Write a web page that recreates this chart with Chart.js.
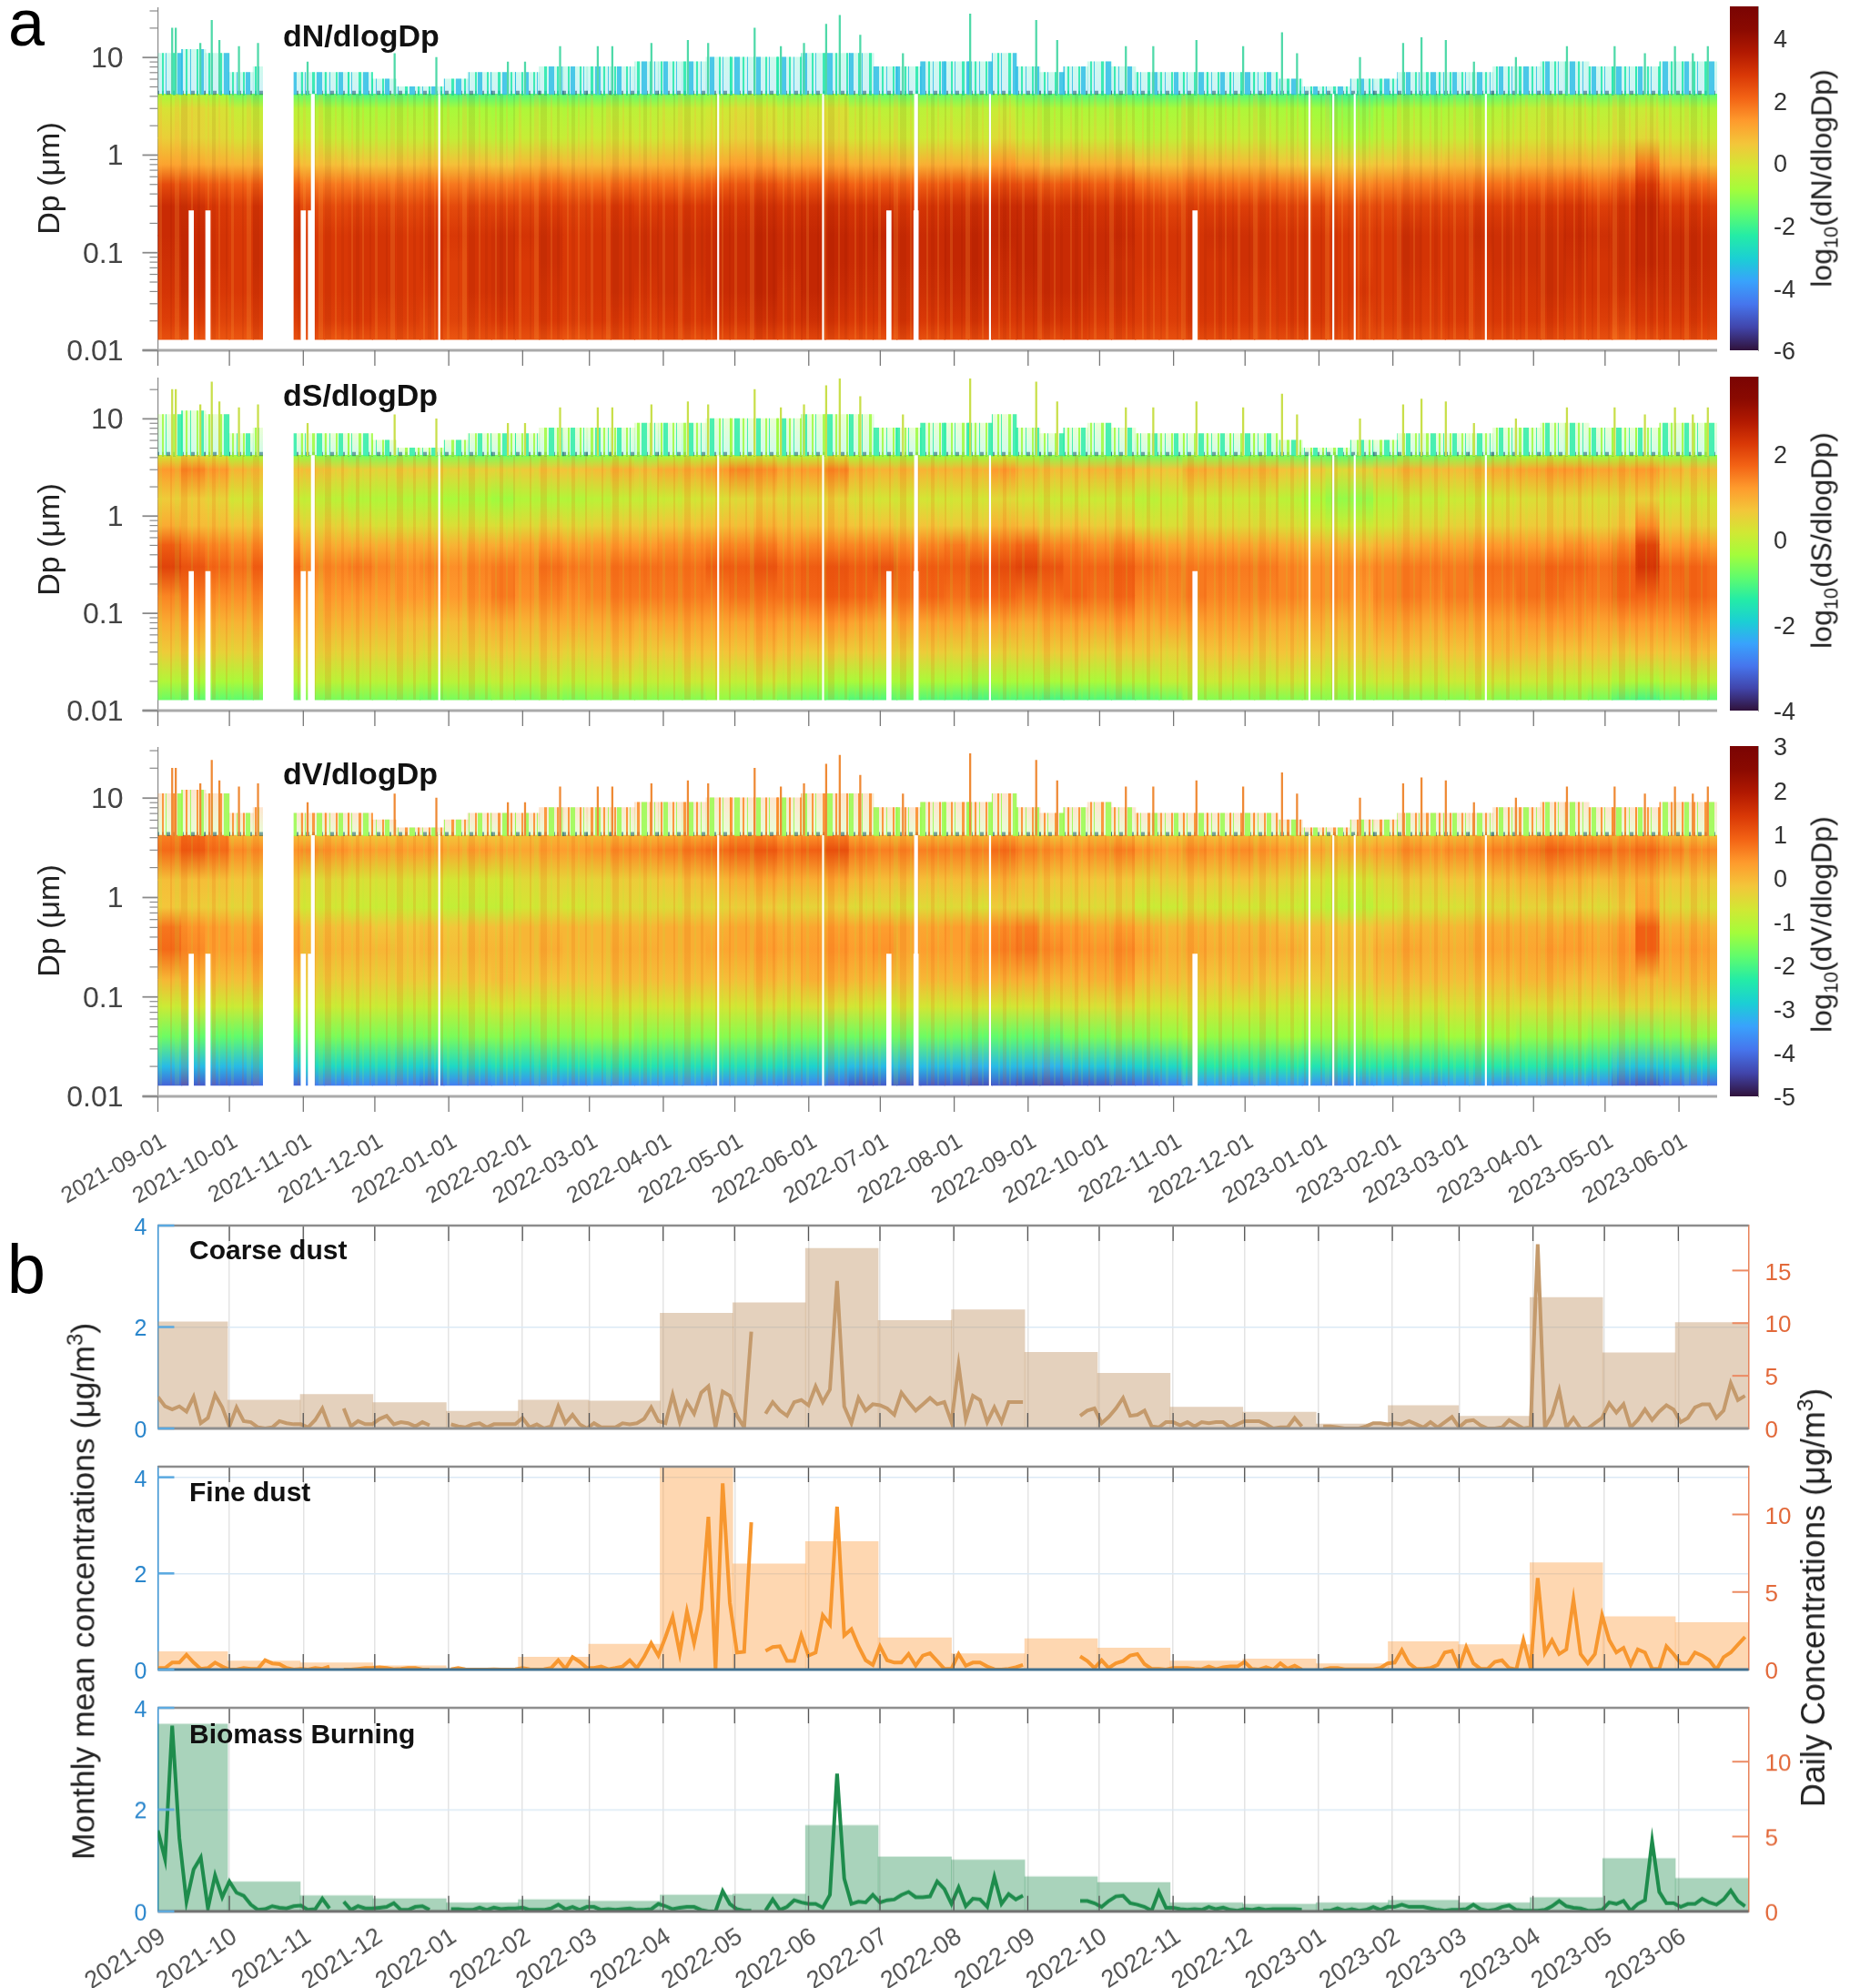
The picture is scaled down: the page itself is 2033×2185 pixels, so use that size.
<!DOCTYPE html>
<html>
<head>
<meta charset="utf-8">
<title>Aerosol size distributions and dust / biomass burning concentrations</title>
<script src="https://cdn.jsdelivr.net/npm/chart.js@4/dist/chart.umd.min.js"></script>
<style>
  html, body { margin: 0; padding: 0; background: #fff; }
  #page { position: relative; width: 2033px; height: 2185px; overflow: hidden; font-family: "Liberation Sans", Arial, sans-serif; }
  canvas { position: absolute; left: 0; }
  .lbl { position: absolute; white-space: nowrap; transform: translate(-50%, -50%); color: #222; }
  .rot { transform: translate(-50%, -50%) rotate(-90deg); }
  .panel { position: absolute; white-space: nowrap; font-weight: bold; color: #111; }
  sub, sup { font-size: 68%; line-height: 0; }
</style>
</head>
<body>
<div id="page"></div>
<script>
// months on the x axes
const months = ["2021-09","2021-10","2021-11","2021-12","2022-01","2022-02","2022-03","2022-04","2022-05","2022-06","2022-07",
  "2022-08","2022-09","2022-10","2022-11","2022-12","2023-01","2023-02","2023-03","2023-04","2023-05","2023-06"];

// size levels (um) the contour rows are read at, one column every 10 days
const sizeLevels = [0.013, 0.02, 0.04, 0.08, 0.15, 0.3, 0.5, 0.8, 1.5, 3, 4.2];

// contour values, in tenths of log10 units, one row per size level
const dNgrid = [
  [24,23,23,23,24,24,24,23,24,24,24,24,23,24,24,24,24,23,24,25,24,25,24,25,25,26,25,26,25,24,24,25,24,25,25,25,26,25,26,25,25,24,24,25,25,25,24,25,25,24,24,24,25,24,25,24,25,25,25,24,24,22,24,25,25,24],
  [27,27,26,26,27,27,27,27,28,27,27,26,26,27,28,27,28,27,28,28,27,28,28,29,29,30,29,30,29,28,28,29,28,29,29,28,29,29,29,28,28,27,27,28,28,28,27,28,28,27,26,27,28,27,28,27,28,28,28,27,27,26,28,28,28,27],
  [29,30,28,28,29,29,28,28,29,29,28,28,27,29,30,28,29,28,29,30,29,30,29,31,31,32,30,32,31,30,30,30,30,31,31,30,31,31,31,30,30,28,28,29,29,29,28,29,29,28,28,28,29,28,29,28,29,29,30,29,29,29,30,30,30,29],
  [30,31,29,28,30,29,28,28,29,29,28,29,27,29,30,28,30,28,29,30,30,30,30,31,31,32,31,32,32,31,31,31,31,32,32,31,32,31,31,31,30,29,29,29,29,30,29,29,29,28,27,28,30,29,29,29,30,30,30,30,29,30,32,31,31,30],
  [31,31,29,28,30,30,28,28,29,29,28,29,28,29,30,29,30,28,29,30,30,30,30,31,31,32,31,32,32,31,32,31,31,32,32,32,32,31,31,31,31,29,29,29,30,30,29,29,29,28,27,28,30,29,29,30,30,30,30,31,30,30,32,31,31,30],
  [31,30,28,27,29,28,25,25,26,26,25,26,25,26,26,26,27,26,27,28,27,28,28,29,29,30,29,30,30,29,29,28,29,30,30,31,31,29,30,29,29,27,26,27,27,27,27,26,26,24,24,25,26,26,26,27,27,28,28,29,27,29,32,28,28,27],
  [25,23,22,21,22,21,18,18,18,18,18,19,18,18,18,19,20,19,19,20,20,20,20,22,23,24,22,23,23,21,22,21,22,23,22,25,24,22,23,22,22,19,18,20,19,19,19,18,17,16,16,17,18,18,18,19,19,20,20,21,19,22,28,20,20,19],
  [12,11,10,9,10,10,7,7,6,6,7,8,7,7,6,8,9,8,8,9,9,10,10,11,13,13,11,12,12,10,10,9,10,10,9,14,11,8,10,10,10,7,7,9,8,8,8,6,5,5,5,6,7,7,8,8,8,9,10,10,9,11,18,9,8,7],
  [4,3,2,0,0,-1,-2,-3,-4,-4,-3,-3,-4,-4,-5,-3,-3,-3,-2,-1,-2,0,0,1,3,2,0,1,2,-1,-1,-2,-2,-1,-2,1,-2,-4,-3,-3,-3,-5,-4,-2,-3,-3,-3,-4,-5,-7,-7,-5,-3,-4,-3,-3,-2,-1,0,0,-1,0,2,-1,-2,-2],
  [0,2,0,-3,-4,-5,-6,-7,-8,-8,-7,-7,-8,-8,-9,-7,-6,-7,-6,-5,-5,-4,-3,-2,0,-1,-3,-2,0,-4,-5,-5,-5,-5,-5,-3,-6,-7,-7,-7,-7,-8,-8,-6,-7,-7,-7,-8,-9,-11,-11,-9,-7,-8,-7,-7,-6,-4,-3,-4,-5,-4,-3,-5,-6,-6],
  [-8,-7,-9,-14,-15,-15,-16,-17,-18,-18,-17,-17,-18,-18,-18,-17,-16,-17,-16,-15,-16,-14,-13,-12,-11,-11,-13,-12,-10,-14,-15,-15,-15,-15,-15,-12,-15,-17,-17,-17,-17,-18,-18,-16,-17,-17,-17,-18,-19,-20,-20,-19,-17,-18,-17,-17,-16,-14,-13,-14,-15,-14,-13,-15,-16,-16]
];
const dSgrid = [
  [-8,-9,-9,-9,-8,-8,-7,-7,-7,-7,-7,-8,-7,-7,-6,-7,-6,-7,-6,-6,-6,-6,-6,-5,-6,-6,-7,-8,-9,-10,-10,-9,-10,-10,-11,-10,-10,-11,-10,-10,-10,-9,-8,-6,-6,-6,-6,-6,-6,-6,-6,-6,-6,-6,-6,-5,-6,-6,-6,-6,-7,-10,-11,-9,-8,-9],
  [-2,-3,-3,-3,-2,-2,0,-1,-1,-1,-1,-2,-1,-1,0,-1,0,-1,0,1,0,0,1,1,0,1,0,-2,-3,-3,-3,-3,-3,-3,-4,-3,-3,-3,-2,-3,-2,-2,0,0,1,0,0,1,0,-1,0,1,1,0,1,1,1,1,0,0,0,-2,-3,-1,-1,-1],
  [6,6,5,5,5,5,6,5,5,5,5,4,5,5,6,5,6,5,6,7,6,6,7,7,7,8,7,6,6,6,6,5,6,5,5,5,5,6,6,5,6,6,5,6,7,7,6,7,6,5,6,7,7,6,7,7,8,8,7,7,7,6,7,7,8,7],
  [10,11,9,9,10,10,9,9,9,9,8,8,8,9,10,9,10,10,10,11,10,11,11,11,11,12,11,12,12,11,10,11,11,11,10,11,10,11,11,11,12,10,11,11,11,11,10,10,10,9,9,11,11,10,11,11,11,12,12,12,11,12,12,12,13,12],
  [14,15,13,13,14,14,11,12,12,12,12,12,12,13,15,13,14,13,14,15,15,15,15,15,16,16,16,17,18,17,16,16,17,16,17,17,16,16,17,16,17,14,14,15,14,14,14,14,13,13,12,14,15,14,15,15,15,16,16,15,15,17,17,16,17,16],
  [21,19,17,16,18,17,14,14,15,14,13,14,13,14,15,14,16,15,15,16,16,16,16,18,18,19,17,18,19,18,19,17,18,18,19,20,21,19,17,17,18,16,15,15,15,15,15,14,13,13,13,14,15,15,15,16,16,16,17,17,16,18,23,17,17,16],
  [18,15,14,13,14,13,10,10,10,10,10,10,9,10,10,11,12,11,12,12,12,13,13,14,14,15,13,14,14,14,14,13,14,15,14,16,17,14,14,13,14,12,11,11,11,11,11,10,9,9,8,9,10,11,11,12,12,12,12,13,12,14,21,12,12,11],
  [10,8,8,7,8,7,5,5,4,3,3,4,3,3,3,4,5,4,5,6,6,7,7,8,8,9,8,8,8,7,7,6,7,6,6,9,8,6,7,6,6,3,3,5,4,4,4,3,2,1,1,2,4,4,5,5,5,6,6,6,5,7,13,6,5,4],
  [6,6,5,2,2,1,0,-1,-2,-2,-2,-2,-3,-3,-4,-2,-2,-2,-1,0,0,1,2,3,4,5,4,4,5,3,2,2,2,2,2,4,2,1,1,1,1,-1,0,2,1,1,1,-1,-3,-5,-5,-2,0,0,1,1,2,3,4,4,3,4,5,2,2,2],
  [12,14,12,9,8,7,8,6,5,5,6,6,5,5,5,6,7,7,8,9,8,10,10,12,14,13,11,12,14,10,9,9,9,9,9,12,9,8,8,9,9,7,7,10,9,9,9,7,6,4,5,7,9,8,8,9,10,11,12,12,11,11,12,9,8,8],
  [2,4,2,-3,-3,-4,-5,-6,-7,-7,-6,-6,-6,-7,-7,-6,-5,-6,-5,-4,-5,-3,-2,-1,0,0,-2,-1,1,-3,-4,-4,-4,-4,-4,-1,-4,-6,-6,-6,-6,-7,-7,-5,-6,-6,-6,-7,-8,-9,-9,-8,-6,-7,-6,-6,-5,-3,-2,-3,-4,-3,-2,-4,-5,-5]
];
const dVgrid = [
  [-41,-42,-41,-41,-40,-41,-38,-38,-37,-38,-38,-40,-38,-38,-37,-37,-36,-37,-36,-36,-36,-36,-36,-37,-36,-37,-38,-38,-40,-42,-42,-42,-42,-42,-43,-42,-43,-43,-42,-42,-41,-40,-38,-35,-35,-36,-35,-35,-36,-37,-36,-35,-35,-36,-35,-35,-36,-35,-36,-36,-37,-41,-42,-40,-39,-40],
  [-31,-31,-31,-31,-30,-30,-27,-27,-27,-27,-28,-29,-27,-27,-26,-27,-26,-26,-25,-25,-25,-26,-26,-26,-26,-26,-27,-28,-30,-31,-31,-31,-31,-31,-32,-31,-31,-32,-30,-30,-29,-28,-27,-24,-24,-24,-24,-24,-25,-25,-24,-24,-24,-24,-24,-24,-24,-24,-25,-25,-26,-30,-30,-29,-28,-28],
  [-17,-18,-18,-18,-18,-18,-16,-16,-16,-16,-16,-16,-16,-15,-15,-16,-15,-15,-14,-14,-15,-15,-15,-15,-15,-15,-16,-16,-17,-17,-17,-17,-17,-17,-18,-18,-18,-18,-16,-16,-15,-15,-14,-13,-14,-14,-14,-13,-14,-14,-14,-13,-13,-14,-13,-13,-13,-14,-14,-14,-15,-16,-16,-15,-14,-14],
  [-8,-7,-8,-8,-8,-8,-8,-8,-8,-8,-9,-9,-9,-8,-7,-8,-8,-8,-7,-7,-7,-7,-7,-7,-7,-6,-7,-6,-6,-7,-8,-7,-7,-7,-7,-7,-7,-7,-6,-6,-5,-7,-7,-6,-7,-7,-7,-8,-8,-8,-8,-6,-6,-7,-6,-6,-6,-6,-6,-6,-6,-5,-5,-6,-5,-5],
  [0,0,-1,-1,0,-1,-3,-3,-3,-3,-3,-3,-3,-2,-1,-2,-2,-2,-2,-1,-1,-1,-1,-1,-1,0,-1,1,1,0,0,-1,0,0,1,1,1,0,0,1,2,-1,-1,-1,-2,-1,-2,-2,-3,-3,-3,-1,-1,-1,-1,-1,-1,0,0,-1,-1,1,0,0,0,0],
  [8,5,3,3,4,3,0,0,0,0,-1,0,-1,0,0,0,1,0,0,1,1,1,1,2,2,3,2,3,4,3,4,2,3,3,4,6,7,5,4,4,5,3,1,2,1,1,1,1,0,-1,-1,1,2,1,1,2,2,2,3,3,2,4,9,3,3,2],
  [7,4,3,2,3,2,-1,-1,-1,-2,-2,-1,-2,-1,-1,0,0,0,0,0,0,1,1,1,2,2,1,2,3,2,3,2,2,3,3,5,6,3,3,2,3,1,0,1,0,0,0,-1,-1,-2,-2,-1,0,0,0,1,1,1,1,2,1,3,9,1,1,0],
  [-2,-3,-3,-4,-3,-4,-7,-7,-8,-8,-8,-8,-9,-9,-9,-7,-6,-7,-6,-5,-5,-5,-4,-4,-3,-3,-4,-4,-3,-5,-5,-6,-5,-5,-6,-3,-4,-5,-5,-5,-5,-8,-8,-6,-7,-7,-7,-8,-9,-10,-10,-8,-6,-6,-6,-5,-5,-4,-4,-4,-5,-3,2,-5,-5,-6],
  [-1,-1,-1,-2,-3,-3,-5,-5,-6,-6,-6,-6,-7,-7,-7,-5,-4,-4,-4,-3,-3,-2,-1,0,1,2,1,1,2,0,-1,-1,-1,-1,-1,1,-1,-2,-2,-2,-2,-4,-3,-2,-3,-2,-3,-4,-6,-7,-7,-5,-3,-3,-2,-2,-1,0,1,0,-1,0,1,-2,-2,-3],
  [8,10,8,5,5,4,5,4,3,3,3,3,2,3,2,2,3,3,4,5,5,6,7,8,9,10,8,9,11,7,6,6,6,6,6,8,6,5,4,5,6,4,3,5,4,5,4,3,2,1,2,3,5,4,5,5,6,7,9,8,8,7,8,6,5,5],
  [6,8,6,0,0,-1,-1,-1,-2,-2,-1,-1,-2,-2,-2,-1,0,0,0,0,0,1,2,3,5,5,3,4,6,2,0,0,0,0,0,3,0,-1,-1,0,0,-2,-2,0,-1,0,-1,-2,-3,-3,-3,-2,0,-1,0,0,1,2,4,3,2,2,3,0,-1,-1]
];

// noisy upper edge of the contours (um), per 10-day column
const fringeTop = [11,12,11,7,8,7,7,7,7,6,5,5,6,7,7,7,8,8,8,8,9,9,9,10,10,10,10,11,11,11,8,8,9,9,9,11,8,7,8,9,8,7,7,7,7,7,7,6,5,5,6,6,7,7,7,7,8,8,9,9,8,8,8,9,9,9];

// single tall streaks above the contours
const spikeDays = [6,7.5,17.8,22.6,25.8,34,42,62.8,99.3,116.8,146.8,154,168.7,184.5,190.6,207,222.3,230.8,250.3,261.3,271,280.3,286,294.6,312.5,340.7,368.4,377.2,406,417.5,435.6,455.2,471.5,477.8,504.2,522.3,530,540.2,552,569.6,591,611,623.7,636.3,643.8,650.1];
const spikeTops = [20,20,14,24,15,13,14,9,11,10,9,9,13,13,13,14,15,14,20,13,14,22,27,17,11,28,24,15,13,13,15,13,18,11,10,14,16,15,9,10,13,13,11,13,11,13];

// days with no data (white slots)
const gapWide = [50.5];
const gapLow = [14,21,61,64,306.6,318,435];
const gapFull = [65,318];
const gapThin = [118,235,279,349,483,493,502,557];

// monthly means (left axis)
const coarseMonthly = [2.1,0.56,0.67,0.51,0.34,0.56,0.54,2.27,2.48,3.55,2.13,2.34,1.5,1.09,0.42,0.32,0.09,0.45,0.24,2.58,1.49,2.09];
const fineMonthly = [0.37,0.18,0.14,0.08,0.03,0.26,0.53,4.23,2.2,2.66,0.66,0.33,0.64,0.45,0.18,0.22,0.12,0.58,0.52,2.22,1.1,0.98];
const biomassMonthly = [3.68,0.58,0.31,0.25,0.17,0.23,0.2,0.32,0.34,1.69,1.07,1.01,0.68,0.57,0.17,0.14,0.17,0.22,0.17,0.27,1.04,0.65];

// daily concentrations (right axis), one value every 3 days, one line per month
const coarseDaily = [
  3.0,2.1,1.8,2.1,1.6,3.0,0.5,1.0,3.2,2.0,
  0.2,2.0,0.7,0.6,0.1,0,0.1,0.7,0.5,0.4,0.4,
  0.1,0.8,1.9,0.1,null,1.9,0.2,0.7,0.4,0.4,
  0.9,1.2,0.4,0.6,0.5,0.2,0.6,0.3,null,null,
  0.4,0.2,0.1,0.4,0.5,0.1,0.4,0.4,0.4,0.4,
  1.0,0.1,0.4,0,0.2,2.1,0.5,1.3,0.4,0,
  0.5,0.1,0.1,0.1,0.5,0.4,0.5,0.9,2.0,0.7,
  0.5,3.2,0.6,2.5,1.4,3.4,4.0,0.1,3.5,3.1,
  1.2,0.1,9.2,null,1.4,2.5,1.7,1.2,2.5,2.7,
  2.2,4.0,2.5,3.7,14,2.1,0.5,2.9,1.7,2.3,
  2.2,1.9,1.3,3.4,2.5,1.7,2.3,2.9,2.3,2.5,0.6,
  6.0,0.9,3.1,2.7,0.6,2.0,0.6,2.5,2.5,2.5,
  null,null,null,null,null,null,null,1.2,1.7,1.9,
  0.5,1.1,1.9,2.9,1.2,1.3,1.7,0.2,0.1,0.6,
  0.6,0.3,0.6,0.2,0.6,0.5,0.6,0.6,0.1,0.4,
  0.7,0.7,0.7,0.4,0,0.1,0.1,1.0,0.2,null,null,
  0.2,0.2,0.1,0,0,0,0.2,0.5,0.5,0.4,
  0.5,0.4,0.7,0.4,0.1,0.6,0.1,0.6,1.1,
  0.1,0.7,0.8,0.3,0,0,0.1,0.8,0.4,0,0.1,
  17.5,0.1,1.3,3.6,0.1,1.0,0,0,0.5,1.0,
  2.4,1.5,2.3,0.1,0.8,1.8,0.8,1.6,2.2,1.8,
  0.6,1.0,2.0,2.3,2.3,1.0,1.7,4.3,2.7,3.1
];
const fineDaily = [
  0.1,0.1,0.45,0.45,0.95,0.45,0.05,0.1,0.45,0.2,
  0,0,0.1,0.05,0.05,0.6,0.4,0.35,0.1,0,0.05,
  0,0.1,0.05,0.2,null,0,0,0.05,0.1,0.1,
  0.15,0.1,0.02,0.05,0.1,0.1,0,0,null,null,
  0.02,0.1,0.02,0,0,0,0.02,0,0,0.02,
  0.1,0.02,0,0.02,0.1,0.6,0.05,0.8,0.5,0.1,
  0.1,0.2,0.02,0.1,0.2,0.6,0.1,0.8,1.7,0.9,
  2.1,3.4,1.05,3.75,1.7,3.9,9.85,0,12,4.3,
  1.1,1.15,9.5,null,1.2,1.45,1.5,0.55,0.55,2.2,
  0.9,1.1,3.5,2.9,10.5,2.2,2.6,1.5,0.6,0.3,
  1.5,0.6,0.45,0.45,1.0,0.25,0.9,1.05,0.55,0.05,0.05,
  1.0,0.25,0.45,0.45,0.2,0.02,0,0.05,0.15,0.3,
  null,null,null,null,null,null,null,0.85,0.55,0.1,
  0.6,0.1,0.4,0.55,0.9,1.0,0.35,0.05,0.05,0,
  0.1,0.1,0.1,0.05,0.02,0.2,0.02,0.15,0.2,0.2,
  0.5,0.05,0,0.15,0,0.4,0.05,0.25,0,null,null,
  0,0.1,0.1,0.02,0.02,0.02,0.02,0.02,0.1,0.4,
  0.45,1.25,0.4,0.05,0.05,0.1,0.3,1.1,1.2,
  0.1,1.45,0.4,0.05,0.05,0.5,0.6,0.1,0,1.9,0.1,
  5.9,1.1,1.9,1.0,1.3,4.5,1.0,0.4,1.0,3.5,
  1.9,1.1,1.4,0.3,1.3,1.1,0.05,0.05,1.5,1.0,
  0.4,0.4,1.1,0.9,0.6,0,0.8,1.1,1.6,2.1
];
const biomassDaily = [
  5.4,3.5,12.4,4.9,0.65,2.8,3.6,0.2,2.4,0.95,
  2.0,1.25,1.05,0.45,0.1,0.15,0.35,0.25,0.2,0.35,0.4,
  0.1,0.15,0.85,0.2,null,0.65,0.1,0.35,0.2,0.2,
  0.25,0.3,0.55,0.1,0.1,0.3,0.35,0.1,null,null,
  0.15,0.15,0.1,0.1,0.25,0.1,0.25,0.15,0.2,0.2,
  0.25,0.1,0.1,0.1,0.2,0.45,0.15,0.3,0.1,0.3,
  0.3,0.1,0.15,0.1,0.15,0.2,0.1,0.1,0.15,0.5,
  0.35,0.15,0.25,0.3,0.3,0.1,0,0,1.35,0.5,
  0.15,0.05,0.05,null,0.05,0.8,0.1,0.3,0.75,0.6,
  0.5,0.5,0.25,1.1,9.2,2.2,0.5,0.65,0.6,1.1,
  0.6,0.75,0.8,1.1,1.3,0.95,0.95,1.0,2.0,1.5,0.5,
  1.6,0.35,0.85,0.8,0.3,2.3,0.5,1.15,0.8,1.05,
  null,null,null,null,null,null,null,0.7,0.7,0.55,
  0.3,0.7,1.0,1.05,0.55,0.45,0.3,0.05,1.3,0.25,
  0.25,0.15,0.1,0.15,0.1,0.3,0.15,0.25,0.1,0.05,
  0.15,0.1,0.2,0.1,0.15,0.15,0.15,0.15,0.1,null,null,
  0.05,0.05,0.2,0.05,0.15,0.05,0.1,0.3,0.1,0.3,
  0.3,0.45,0.3,0.3,0.3,0.2,0.1,0.05,0.1,
  0.1,0.15,0.45,0.15,0.05,0.1,0.3,0.4,0.1,0.05,0.05,
  0.05,0.1,0.35,0.7,0.35,0.25,0.2,0.05,0.05,0.1,
  0.6,0.5,0.7,0.05,0.5,0.75,4.7,1.3,0.55,0.55,
  0.3,0.5,0.5,0.85,0.6,0.45,0.8,1.4,0.7,0.35
];

const FONT = "'Liberation Sans', Arial, sans-serif";
const PX_PER_DAY = 2.619;
const page = document.getElementById("page");

const monthDays = months.map(m => {
  const p = m.split("-");
  return (Date.UTC(+p[0], +p[1] - 1, 1) - Date.UTC(2021, 8, 1)) / 864e5;
});

// turbo colormap
const turboStops = ["#30123b","#4145ab","#4675ed","#39a2fc","#1bcfd4","#24eca6","#61fc6c","#a4fc3b","#d1e834","#f3c63a","#fe9b2d","#f36315","#d93806","#b11901","#8a0a01","#7a0403"];
const turboRgb = turboStops.map(h => [1, 3, 5].map(i => parseInt(h.substr(i, 2), 16)));

function turbo(t, alpha) {
  const p = Math.min(Math.max(t, 0), 1) * (turboRgb.length - 1);
  const i = Math.min(Math.floor(p), turboRgb.length - 2);
  const c = turboRgb[i].map((v, n) => Math.round(v + (turboRgb[i + 1][n] - v) * (p - i)));
  return "rgba(" + c[0] + "," + c[1] + "," + c[2] + "," + (alpha === undefined ? 1 : alpha) + ")";
}

// vertical stripe fill, the fine combing of the original can't be read line by line
function stripes(widths, colors) {
  const total = widths.reduce((a, b) => a + b, 0);
  const c = document.createElement("canvas");
  c.width = total;
  c.height = 4;
  const ctx = c.getContext("2d");
  let x = 0;
  widths.forEach((w, i) => {
    const col = colors[i % colors.length];
    if (col) {
      ctx.fillStyle = col;
      ctx.fillRect(x, 0, w, 4);
    }
    x += w;
  });
  return ctx.createPattern(c, "repeat");
}
const combWidths = [2,3,1,4,2,2,1,5,2,3,2,2,1,4,3,3,2,6,1,2];
const streakWidths = [3,2,6,2,4,3,9,2,3,5,2,7,4,2,5,3,8,2,3,4];

function addCanvas(top, height) {
  const c = document.createElement("canvas");
  c.width = 2033;
  c.height = height;
  c.style.top = top + "px";
  c.style.width = "2033px";
  c.style.height = height + "px";
  page.appendChild(c);
  return c;
}

function addText(cls, html, x, y, size) {
  const d = document.createElement("div");
  d.className = cls;
  d.innerHTML = html;
  d.style.left = x + "px";
  d.style.top = y + "px";
  d.style.fontSize = size + "px";
  page.appendChild(d);
  return d;
}

function line(ctx, x1, y1, x2, y2, color, width) {
  ctx.save();
  ctx.strokeStyle = color;
  ctx.lineWidth = width;
  ctx.beginPath();
  ctx.moveTo(x1, y1);
  ctx.lineTo(x2, y2);
  ctx.stroke();
  ctx.restore();
}

// labels hanging over the ends of an axis should not shrink the plot area
function fixWidth(w) {
  return s => { s.width = w; s.paddingTop = 0; s.paddingBottom = 0; };
}
function fixHeight(h) {
  return s => { s.height = h; s.paddingLeft = 0; s.paddingRight = 0; };
}

// outer ticks for the contour panels
const heatTicks = {
  id: "heatTicks",
  afterDatasetsDraw(chart) {
    const { ctx, chartArea: a, scales } = chart;
    line(ctx, a.left - 17, a.bottom, a.right, a.bottom, "#aaa", 3);
    monthDays.forEach(d => {
      const x = scales.x.getPixelForValue(d);
      line(ctx, x, a.bottom, x, a.bottom + 17, "#777", 1.3);
    });
    [0.01, 0.1, 1, 10].forEach(dec => {
      for (let m = 1; m <= 9; m++) {
        const v = dec * m;
        if (v > scales.y.max) continue;
        const y = scales.y.getPixelForValue(v);
        line(ctx, a.left - (m === 1 ? 17 : 9), y, a.left, y, "#8a8a8a", m === 1 ? 1.8 : 1.2);
      }
    });
  },
};

// inner ticks and frame for the bar panels
const barTicks = {
  id: "barTicks",
  afterDatasetsDraw(chart, args, pluginOpts) {
    const { ctx, chartArea: a, scales } = chart;
    monthDays.forEach(d => {
      const x = scales.x.getPixelForValue(d);
      if (d > 0) {
        line(ctx, x, a.top, x, a.top + 17, "#555", 1.3);
        line(ctx, x, a.bottom, x, a.bottom - 17, "#555", 1.3);
      }
    });
    line(ctx, a.left, a.top, a.right, a.top, "#8c8c8c", 2.5);
    line(ctx, a.left, a.bottom, a.right, a.bottom, pluginOpts.base, 3);
    scales.yL.ticks.forEach(t => {
      const y = scales.yL.getPixelForValue(t.value);
      line(ctx, a.left, y, a.left + 18, y, "#5aa9e0", 2.5);
    });
    scales.yR.ticks.forEach(t => {
      const y = scales.yR.getPixelForValue(t.value);
      if (t.value > 0) line(ctx, a.right, y, a.right - 18, y, "#ec8a62", 2);
    });
  },
};

function heatPanel(opts) {
  const padTop = 9;
  const axisH = opts.labels ? 125 : 22;
  const plotH = opts.bottom - opts.top;
  const canvas = addCanvas(opts.top - padTop, padTop + plotH + axisH);
  const columns = opts.grid[0].map((v, k) => 5 + 10 * k);
  const t = v => (v - opts.range[0]) / (opts.range[1] - opts.range[0]);
  const cellColor = (ctx, low, high, alpha, bottom, top) => {
    const sy = ctx.chart.scales.y;
    const y0 = sy.getPixelForValue(bottom);
    const y1 = sy.getPixelForValue(top);
    // first pass runs before the layout has pixels
    if (!isFinite(y0) || !isFinite(y1)) return "#fff";
    const g = ctx.chart.ctx.createLinearGradient(0, y0, 0, y1);
    g.addColorStop(0, turbo(t(low), alpha));
    g.addColorStop(1, turbo(t(high), alpha));
    return g;
  };
  const colWidth = 10 * PX_PER_DAY;

  const datasets = [];
  // white slots on top of everything
  datasets.push({ order: 0, barThickness: 33, backgroundColor: "#fff", data: gapWide.map(x => ({ x, y: [0.01, opts.ymax] })) });
  datasets.push({ order: 0, barThickness: 5, backgroundColor: "#fff", data: gapLow.map(x => ({ x, y: [0.0125, 0.27] })) });
  datasets.push({ order: 0, barThickness: 3.5, backgroundColor: "#fff", data: gapFull.map(x => ({ x, y: [0.0125, 4.2] })) });
  datasets.push({ order: 0, barThickness: 1.5, backgroundColor: "#fff", data: gapThin.map(x => ({ x, y: [0.0125, 4.2] })) });
  datasets.push({ order: 1, barThickness: 1.6, backgroundColor: opts.spikeColor,
    data: spikeDays.map((x, i) => ({ x, y: [4.2, spikeTops[i]] })) });

  // fine streaks over the whole contour
  datasets.push({ order: 1, barThickness: 654 * PX_PER_DAY, inflateAmount: 0,
    backgroundColor: stripes(streakWidths, opts.streaks), data: [{ x: 327, y: [sizeLevels[0], 4.2] }] });
  // combed band above 4.2 um and its dark specks
  datasets.push({ order: 1, barThickness: colWidth, inflateAmount: 0.6,
    backgroundColor: stripes(combWidths, [turbo(t(opts.fringe[1]), 0.85), null, turbo(t(opts.fringe[0]), 0.8), null, null]),
    data: columns.map((x, k) => ({ x, y: [4.2, fringeTop[k]] })) });
  datasets.push({ order: 1, barThickness: colWidth, inflateAmount: 0.6,
    backgroundColor: stripes(combWidths, ["rgba(25,50,110,0.8)", null, null, "rgba(25,90,110,0.55)", null]),
    data: columns.map(x => ({ x, y: [4.2, 4.5] })) });

  // one dataset per band between two size levels
  for (let r = 0; r < sizeLevels.length - 1; r++) {
    datasets.push({
      order: 2,
      barThickness: colWidth,
      inflateAmount: 0.6,
      data: columns.map(x => ({ x, y: [sizeLevels[r], sizeLevels[r + 1]] })),
      backgroundColor: ctx => ctx.type === "data"
        ? cellColor(ctx, opts.grid[r][ctx.dataIndex] / 10, opts.grid[r + 1][ctx.dataIndex] / 10, 1, sizeLevels[r], sizeLevels[r + 1])
        : "#fff",
    });
  }
  // pale wash below the comb
  datasets.push({
    order: 2,
    barThickness: colWidth,
    inflateAmount: 0.6,
    data: columns.map((x, k) => ({ x, y: [4.2, fringeTop[k]] })),
    backgroundColor: ctx => ctx.type === "data"
      ? cellColor(ctx, opts.fringe[0], opts.fringe[1], 0.22, 4.2, fringeTop[ctx.dataIndex])
      : "#fff",
  });

  new Chart(canvas, {
    type: "bar",
    data: { datasets },
    plugins: [heatTicks],
    options: {
      responsive: false,
      animation: false,
      devicePixelRatio: 1,
      events: [],
      datasets: { bar: { grouped: false, borderWidth: 0 } },
      layout: { padding: { top: padTop, right: 2033 - 1887, left: 0, bottom: 0 } },
      plugins: { legend: { display: false }, tooltip: { enabled: false } },
      scales: {
        x: {
          type: "linear", min: 0, max: 654, offset: false,
          grid: { display: false, offset: false },
          border: { display: false },
          afterBuildTicks: s => { s.ticks = monthDays.map(value => ({ value })); },
          afterFit: fixHeight(axisH),
          ticks: {
            display: !!opts.labels,
            autoSkip: false, minRotation: 30, maxRotation: 30, padding: 27, labelOffset: 7,
            color: "#555", font: { family: FONT, size: 25 },
            callback: (v, i) => months[i] + "-01",
          },
        },
        y: {
          type: "logarithmic", min: 0.01, max: opts.ymax,
          grid: { display: false },
          border: { display: true, color: "#8a8a8a", width: 1.2 },
          afterBuildTicks: s => { s.ticks = [0.01, 0.1, 1, 10].map(value => ({ value })); },
          afterFit: fixWidth(173.5),
          ticks: { padding: 30, labelOffset: 2, color: "#444", font: { family: FONT, size: 32 }, autoSkip: false, callback: v => String(v) },
        },
      },
    },
  });

  addText("panel", opts.title, 311, opts.titleY, 34);
  addText("lbl rot", "Dp (μm)", 53, opts.dpY, 34);
  colorBar(opts);
}

function colorBar(opts) {
  const padTop = 20;
  const h = opts.cbBottom - opts.cbTop;
  const canvas = addCanvas(opts.cbTop - padTop, h + padTop * 2);
  new Chart(canvas, {
    type: "bar",
    data: {
      labels: [opts.cbName],
      datasets: [{
        data: [[opts.range[0], opts.range[1]]],
        categoryPercentage: 1,
        barPercentage: 1,
        borderWidth: 0,
        backgroundColor: ctx => {
          const a = ctx.chart.chartArea;
          if (!a) return "#888";
          const g = ctx.chart.ctx.createLinearGradient(0, a.bottom, 0, a.top);
          turboStops.forEach((c, i) => g.addColorStop(i / (turboStops.length - 1), c));
          return g;
        },
      }],
    },
    options: {
      responsive: false,
      animation: false,
      devicePixelRatio: 1,
      events: [],
      layout: { padding: { left: 1901, top: padTop, bottom: padTop, right: 0 } },
      plugins: { legend: { display: false }, tooltip: { enabled: false } },
      scales: {
        x: { display: false },
        y: {
          position: "right", min: opts.range[0], max: opts.range[1],
          grid: { display: false },
          border: { display: true, color: "#999", width: 1 },
          afterBuildTicks: s => { s.ticks = opts.cbTicks.map(value => ({ value })); },
          afterFit: fixWidth(101),
          ticks: { padding: 9, labelOffset: 3, color: "#333", font: { family: FONT, size: 27 }, autoSkip: false, callback: v => String(v) },
        },
      },
    },
  });
  addText("lbl rot", "log<sub>10</sub>(" + opts.cbName + ")", 2002, opts.cbTextY, 32);
}

function barPanel(opts) {
  const padTop = 16;
  const axisH = opts.labels ? 84 : 22;
  const plotH = opts.bottom - opts.top;
  const canvas = addCanvas(opts.top - padTop, padTop + plotH + axisH);
  const centers = monthDays.map((d, i) => {
    const next = i + 1 < monthDays.length ? monthDays[i + 1] : d + 30;
    return (d + next) / 2 - 1;
  });
  new Chart(canvas, {
    type: "bar",
    data: {
      datasets: [
        {
          type: "line",
          order: 1,
          yAxisID: "yR",
          data: opts.daily.map((v, i) => ({ x: i * 3, y: v })),
          borderColor: opts.lineColor,
          borderWidth: 4,
          pointRadius: 0,
          tension: 0,
          spanGaps: false,
        },
        {
          type: "bar",
          order: 2,
          yAxisID: "yL",
          data: opts.monthly.map((v, i) => ({ x: centers[i], y: v })),
          backgroundColor: opts.barColor,
          barThickness: "flex",
          categoryPercentage: 1,
          barPercentage: 1,
          borderWidth: 0,
        },
      ],
    },
    plugins: [barTicks],
    options: {
      responsive: false,
      animation: false,
      devicePixelRatio: 1,
      events: [],
      layout: { padding: { top: padTop, right: 0, left: 0, bottom: 0 } },
      plugins: { legend: { display: false }, tooltip: { enabled: false }, barTicks: { base: opts.baseColor } },
      scales: {
        x: {
          type: "linear", min: 0, max: 667.5, offset: false,
          grid: { display: true, offset: false, color: "#e4e4e4", lineWidth: 1.5, drawTicks: false },
          border: { display: false },
          afterBuildTicks: s => { s.ticks = monthDays.map(value => ({ value })); },
          afterFit: fixHeight(axisH),
          ticks: {
            display: !!opts.labels,
            autoSkip: false, minRotation: 33, maxRotation: 33, padding: 12, labelOffset: 6,
            color: "#555", font: { family: FONT, size: 27 },
            callback: (v, i) => months[i],
          },
        },
        yL: {
          type: "linear", position: "left", min: 0, max: opts.leftMax,
          grid: { color: "#dbe9f5", lineWidth: 1.5, drawTicks: false },
          border: { display: true, color: "#3d95d6", width: 1.5 },
          afterBuildTicks: s => { s.ticks = [0, 2, 4].map(value => ({ value })); },
          afterFit: fixWidth(173.5),
          ticks: { padding: 12, labelOffset: 3, color: "#2a86cc", font: { family: FONT, size: 25 }, autoSkip: false, callback: v => String(v) },
        },
        yR: {
          type: "linear", position: "right", min: 0, max: opts.rightMax,
          grid: { display: false },
          border: { display: true, color: "#e8835a", width: 1.5 },
          afterBuildTicks: s => { s.ticks = opts.rightTicks.map(value => ({ value })); },
          afterFit: fixWidth(111.4),
          ticks: { padding: 10, labelOffset: 3, color: "#e2693a", font: { family: FONT, size: 26 }, autoSkip: false, callback: v => String(v) },
        },
      },
    },
  });
  addText("panel", opts.title, 208, opts.titleY, 30);
}

heatPanel({ grid: dNgrid, title: "dN/dlogDp", titleY: 20, dpY: 196, top: 8.9, bottom: 385, ymax: 32,
  range: [-6, 5], fringe: [-3.4, -2.4], spikeColor: "#4fd9a8", streaks: [null, "rgba(255,170,60,0.2)", null, "rgba(120,15,0,0.08)"],
  cbName: "dN/dlogDp", cbTop: 7, cbBottom: 385, cbTicks: [-6, -4, -2, 0, 2, 4], cbTextY: 196 });
heatPanel({ grid: dSgrid, title: "dS/dlogDp", titleY: 415, dpY: 593, top: 415.6, bottom: 781, ymax: 26,
  range: [-4, 3.79], fringe: [-1.4, -0.4], spikeColor: "#c9df4a", streaks: [null, "rgba(175,240,60,0.14)", null, "rgba(235,80,10,0.14)"],
  cbName: "dS/dlogDp", cbTop: 414, cbBottom: 781, cbTicks: [-4, -2, 0, 2], cbTextY: 594 });
heatPanel({ grid: dVgrid, title: "dV/dlogDp", titleY: 831, dpY: 1012, top: 821.5, bottom: 1205, ymax: 32, labels: true,
  range: [-5, 3], fringe: [-1.4, 0.5], spikeColor: "#ef8a35", streaks: [null, "rgba(175,240,60,0.14)", null, "rgba(235,80,10,0.14)"],
  cbName: "dV/dlogDp", cbTop: 820, cbBottom: 1205, cbTicks: [-5, -4, -3, -2, -1, 0, 1, 2, 3], cbTextY: 1016 });

barPanel({ title: "Coarse dust", titleY: 1357, top: 1347, bottom: 1570, leftMax: 4, rightMax: 19.27, rightTicks: [0, 5, 10, 15], baseColor: "#8f8f8f",
  monthly: coarseMonthly, daily: coarseDaily, barColor: "rgba(196,154,108,0.45)", lineColor: "#c49a6c" });
barPanel({ title: "Fine dust", titleY: 1623, top: 1612, bottom: 1835, leftMax: 4.22, rightMax: 13.08, rightTicks: [0, 5, 10], baseColor: "#40708f",
  monthly: fineMonthly, daily: fineDaily, barColor: "rgba(253,160,70,0.42)", lineColor: "#f7972f" });
barPanel({ title: "Biomass Burning", titleY: 1889, top: 1877, bottom: 2100.7, leftMax: 4, rightMax: 13.6, rightTicks: [0, 5, 10], labels: true, baseColor: "#6a6a6a",
  monthly: biomassMonthly, daily: biomassDaily, barColor: "rgba(30,140,76,0.38)", lineColor: "#1e8c4c" });

addText("lbl", "a", 29, 25, 72).style.color = "#000";
addText("lbl", "b", 29, 1394, 76).style.color = "#000";
addText("lbl rot", "Monthly mean concentrations (μg/m<sup>3</sup>)", 92, 1749, 35.5);
addText("lbl rot", "Daily Concentrations (μg/m<sup>3</sup>)", 1993, 1756, 36);
</script>
</body>
</html>
